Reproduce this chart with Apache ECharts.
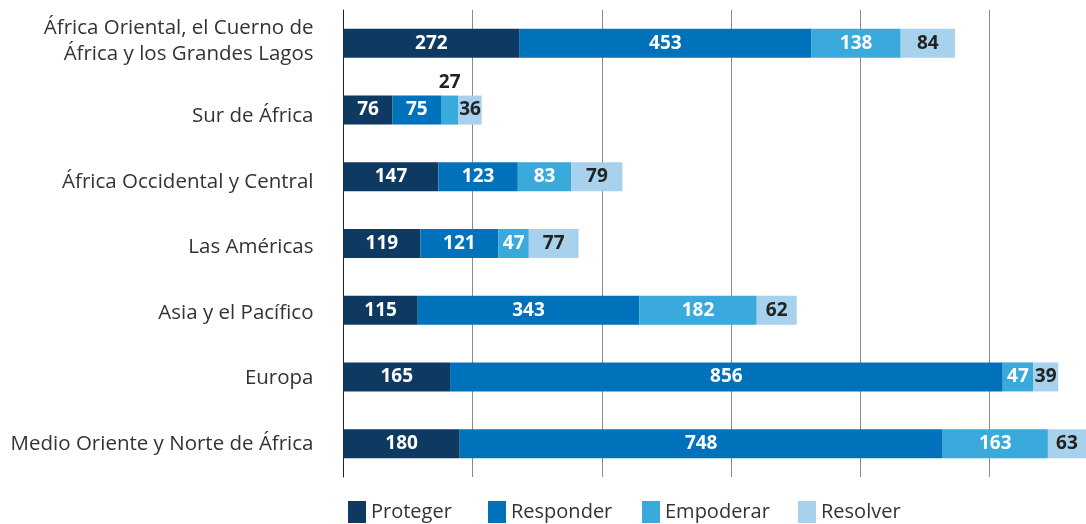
<!DOCTYPE html>
<html>
<head>
<meta charset="utf-8">
<script src="https://cdn.jsdelivr.net/npm/echarts@6/dist/echarts.min.js"></script>
<style>
  html, body { margin: 0; padding: 0; background: #fff; }
  #chart { width: 1086px; height: 524px; }
</style>
</head>
<body>
<div id="chart"></div>
<script>
var categories = [
    'África Oriental, el Cuerno de\nÁfrica y los Grandes Lagos',
    'Sur de África',
    'África Occidental y Central',
    'Las Américas',
    'Asia y el Pacífico',
    'Europa',
    'Medio Oriente y Norte de África'
];
var seriesNames = ['Proteger', 'Responder', 'Empoderar', 'Resolver'];
var proteger  = [272, 76, 147, 119, 115, 165, 180];
var responder = [453, 75, 123, 121, 343, 856, 748];
var empoderar = [138, 27, 83, 47, 182, 47, 163];
var resolver  = [84, 36, 79, 77, 62, 39, 63];

var colors = ['#0e3a62', '#0072bb', '#3aa9db', '#a7d1ec'];
var labelColors = ['#fff', '#fff', '#fff', '#222'];
var font = '"Open Sans", Lato, sans-serif';
// the category labels in the original do not sit exactly on the bar centres
var labelShift = [-5, 6, 5, 3.5, 3, 1, 0.5];
var legendLeft = [343, 483, 637, 793];

var myChart = echarts.init(document.getElementById('chart'));

function makeSeries(name, values, idx) {
    return {
        name: name,
        type: 'bar',
        stack: 'total',
        barWidth: 29,
        itemStyle: { color: colors[idx] },
        label: {
            show: true,
            position: 'inside',
            color: labelColors[idx],
            fontFamily: font,
            fontWeight: 'bold',
            fontSize: 19
        },
        data: values.map(function (v) {
            // too narrow to hold its number: put it above the bar
            if (v < 30) {
                return { value: v, label: { position: 'top', distance: 3, color: '#222' } };
            }
            return v;
        })
    };
}

var rich = {};
labelShift.forEach(function (d, i) {
    var n = categories[i].split('\n').length;
    var p = Math.abs(d) * 2 / n;
    rich['o' + i] = {
        fontFamily: font,
        fontSize: 20.5,
        lineHeight: 26,
        color: '#333',
        align: 'right',
        padding: d >= 0 ? [p, 0, 0, 0] : [0, 0, p, 0]
    };
});

var legends = seriesNames.map(function (name, i) {
    return {
        left: legendLeft[i],
        top: 496,
        icon: 'rect',
        itemWidth: 18,
        itemHeight: 22,
        textStyle: { fontFamily: font, fontSize: 20, color: '#333' },
        data: [name]
    };
});

var option = {
    animation: false,
    color: colors,
    grid: {
        left: 343.5,
        top: 10,
        right: -2,
        height: 467
    },
    legend: legends,
    xAxis: {
        type: 'value',
        min: 0,
        max: 1150,
        interval: 200,
        axisLine: { show: false },
        axisTick: { show: false },
        axisLabel: { show: false },
        splitLine: { lineStyle: { color: '#8a8a8a', width: 1 } }
    },
    yAxis: {
        type: 'category',
        inverse: true,
        data: categories,
        axisLine: { show: true, lineStyle: { color: '#222', width: 1 } },
        axisTick: { show: false },
        axisLabel: {
            margin: 30,
            align: 'right',
            formatter: function (value, index) {
                return value.split('\n').map(function (line) {
                    return '{o' + index + '|' + line + '}';
                }).join('\n');
            },
            rich: rich
        }
    },
    series: [
        makeSeries(seriesNames[0], proteger, 0),
        makeSeries(seriesNames[1], responder, 1),
        makeSeries(seriesNames[2], empoderar, 2),
        makeSeries(seriesNames[3], resolver, 3)
    ]
};
myChart.setOption(option);
</script>
</body>
</html>
